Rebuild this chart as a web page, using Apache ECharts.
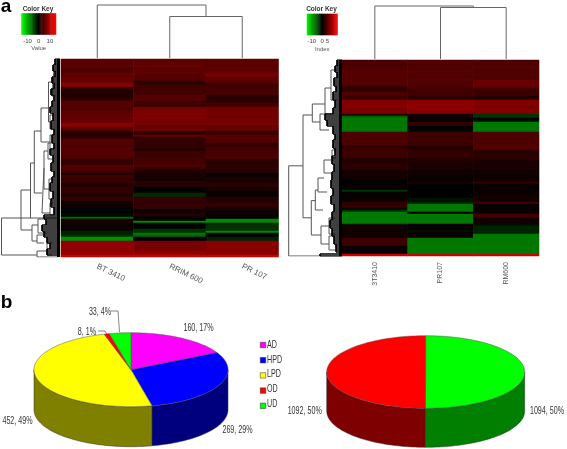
<!DOCTYPE html>
<html>
<head>
<meta charset="utf-8">
<style>
  html, body { margin: 0; padding: 0; background: #fff; }
  #chart { width: 567px; height: 449px; }
</style>
<script src="https://cdn.jsdelivr.net/npm/echarts@6/dist/echarts.min.js"></script>
</head>
<body>
<div id="chart"></div>
<script>
// heatmap a, left: one value per row, top to bottom
const leftNames = ['BT 3410', 'RRIM 600', 'PR 107'];
const leftBT = [
  5.5,5.5,5,5.5,4.5,4.5,4.5,6,5.5,6,
  6,6,8,8,3,2.5,2,2,2,2.5,
  3,5,5,5,4.5,5,5.5,5.5,5.5,6,
  6,6,8,8,5.5,5,2.5,2,2.5,3,
  5,5,5,4.5,5,5,4.5,5,5,4.5,
  3,3,3,4.5,4.5,4.5,4,1.5,3.5,3.5,
  3,3.5,2,2,3,3,3,2,2,3,
  3,1,1,1,0,-0.5,0,-0.5,-0.5,-6,
  1.5,1.5,1,0.5,0.5,0.5,-2,-2,-3,-8.5,
  -8.5,8.5,8.5,8.5,8.5,8.5,8.5,8.5,12
];
const leftRRIM = [
  5.5,5.5,5.5,6,5.5,5.5,5.5,5.5,5,5,
  5,2.5,2.5,4,4,3.5,4,4,5,5,
  5,4,4,2.5,7,7,7,7.5,7,7.5,
  7,7,7,6,6,7,3,3,6,3,
  3,3,3,3,3,1.5,3.5,3.5,3.5,3.5,
  4,4,4,4.5,4,2,2,1.5,1.5,1.5,
  0.5,2.5,2.5,2.5,0,0,0.5,-2.5,-2.5,3,
  3,3,3,3,3,1,1,2,2,0,
  0,-8,0,0,0,-3,-3,-7,-6,0,
  0,7,7,7,7,7,8.5,8.5,12
];
const leftPR = [
  5.5,5.5,5.5,5,5.5,5.5,5.5,7,7,5.5,
  5.5,5.5,4,3.5,4,4,4,4.5,2.5,2.5,
  2.5,2.5,4,4,6.5,6.5,6.5,7,6.5,6.5,
  7,6.5,7.5,6,6,6,3.5,3.5,5,5,
  5,5,3,3,4,4,4,4,4.5,4.5,
  2.5,2.5,2.5,2.5,2.5,2.5,2.5,0.5,0.5,1.5,
  1.5,1.5,2.5,2.5,1.5,1.5,0.5,0.5,0.5,2,
  2,2,3,3,1.5,1.5,0.5,0.5,0.5,0.5,
  -8,-8,-2,-3,-3,-3,-8,0,0,-2,
  -2,8,8,8,8,8,8,8,12
];

// heatmap a, right
const rightNames = ['3T3410', 'PR107', 'RM600'];
const right3T = [
  4.5,4.5,4,4.5,4.5,5,5,5,5,5,
  5,5,5,3,3,3,4.5,4.5,3.5,3.5,
  7.5,7.5,7.5,8,7,7,7,2,-6,-7,
  -7,-7,-7,-7,-7,-7,4.5,4.5,4.5,4.5,
  4.5,4.5,4.5,2.5,3.5,3.5,3.5,3.5,3.5,2,
  2,2,2.5,2.5,2.5,1,1,1.5,1,1,
  0,0,0,0.5,0,-3,0.5,0.5,0.5,0.5,
  0.5,3,3,3,0.5,-3,-7,-7,-7,-7,
  -7,-7,-1,1,1,1,1,1,1,3.5,
  3.5,3.5,3.5,0.5,0.5,0.5,0.5,12
];
const rightPR = [
  5,5,4.5,5,4.5,5,5,5,4.5,5,
  5,4.5,5,4.5,4,4,3.5,4,2.5,2.5,
  8,8,8.5,8,8,8,7.5,1,1,0.5,
  0.5,3,3,0,0,-0.5,3.5,3.5,3.5,3.5,
  3.5,3.5,3.5,2,2,3,3,3,3,2,
  2,1.5,1.5,1.5,1.5,1,1,1,0.5,0.5,
  0.5,1.5,0,0,0,0,0,0,0,-1,
  -1,-2,-7,-7,-7,-7,0,-7,-7,-7,
  -7,-7,0,0.5,0,-1,0.5,0.5,0.5,-7,
  -7,-7,-7,-7,-7,-7,-7,12
];
const rightRM = [
  4.5,4.5,4.5,5,4.5,4.5,4.5,5,4.5,4.5,
  6,6,6,6,3.5,3.5,3.5,3.5,2,2,
  7.5,7.5,7.5,7,7.5,7.5,7.5,-3,-3,0,
  -1,-7,-7,-7,-7,-7,4.5,4.5,4.5,4.5,
  4.5,4.5,4.5,5,5,2.5,2.5,2.5,2.5,2.5,
  1.5,1.5,1.5,1.5,1.5,1,1,1,1,1,
  1,3,0.5,0.5,0.5,0.5,0.5,1,1,1,
  1,4,0.5,0.5,0.5,0.5,0.5,4,4,1,
  1,1,-1,-2,-2,-2,-2,-7,-7,-7,
  -7,-7,-7,-7,-7,-7,-7,12
];

// colour keys
const keyStepsLeft = [-15,-14,-13,-12,-11,-10,-9,-8,-7,-6,-5,-4,-3,-2,-1,0,1,2,3,4,5,6,7,8,9,10,11,12,13,14,15];
const keyStepsRight = [-14,-13,-12,-11,-10,-9,-8,-7,-6,-5,-4,-3,-2,-1,0,1,2,3,4,5,6,7,8,9,10,11,12,13,14];
const keyTicksLeft = [-10,-5,0,5,10];
const keyTicksRight = [-10,-5,0,5];
const keyLabelsLeft = [-10,0,10];
const keyLabelsRight = [-10,0,5];

// dendrograms: [merge height, first child, second child, end of first arm, end of second arm]
const colTreeLeft = [[5,0.5,2,58,16.5],[16.5,1.5,2.5,58,58]];
const colTreeRight = [[6,0.5,2,59,7.5],[7.5,1.5,2.5,59,59]];
const rowTreeLeft = [
  [1.5,79.5,98,31,37],[21,65.5,85.5,30.5,32],[30.5,52,79.5,34.3,58],[34.3,36,67,41,42],
  [41,24.5,41.5,48.5,50],[48.5,11.5,31.5,52,50],[52,5,18.5,54,54],[50,28,35,53,53],
  [50,38,45,54,54],[42,54.5,77,44,50],[44,46,65,48,49],[48,42,50,52,52],[49,60,70,52,52],
  [50,72,78,53,54],[32,83,91,38,37],[38,80,87,45,46],[37,88,92,44,44],[37,96,99,47,58],[47,92,98,52,52]
];
const rowTreeRight = [
  [1.7,52.9,98,16,33],[16,27.5,78.9,25.3,24.3],[25.3,22,31,38,33],[38,14,27,44,46],
  [44,5,20,50,50],[33,27,35,40,42],[24.3,70.3,87.5,28.3,34],[28.3,65,75,31,36],
  [31,59,66,37,40],[37,50,56.5,45,46],[45,45,49,49,49],[34,83,92,42,42],[42,79,87,48,48],[42,88,95,48,48]
];
// leaf bundles: [height where the leaves start, first row, last row]
const rowLeavesLeft = [
  [55,0,3],[53,3,6],[55,6,9],[52,9,12],[54,12,15],[51,15,18],[54,18,21],[52,21,24],[50,24,27],[53,27,31],
  [51,31,35],[54,35,38],[52,38,42],[54,42,45],[50,45,48],[53,48,52],[51,52,56],[54,56,59],[52,59,62],
  [50,62,66],[53,66,70],[51,70,74],[54,74,78],[44,78,80],[46,80,83],[42,83,86],[44,86,89],[47,89,92],
  [50,92,95],[47,95,98]
];
const rowLeavesRight = [
  [50,0,3],[48,3,6],[50,6,9],[47,9,13],[49,13,16],[46,16,20],[48,20,24],[46,24,27],[38,27,30],[40,30,33],
  [46,33,37],[48,37,40],[46,40,44],[48,44,48],[45,48,52],[47,52,56],[45,56,60],[44,60,64],[46,64,68],
  [44,68,72],[47,72,76],[45,76,80],[43,80,84],[45,84,88],[47,88,92],[49,92,96],[33,97,98]
];

// pies in panel b
const pieNames = ['AD', 'HPD', 'LPD', 'OD', 'UD'];
const pieValues = [160, 269, 452, 8, 33];
const pieTops = ['#ff00ff', '#0000ff', '#ffff00', '#ff0000', '#00ff00'];
const pieWalls = ['#7f007f', '#00007f', '#7f7f00', '#7f0000', '#007f00'];
const pie2Values = [1094, 1092];
const pie2Tops = ['#00ff00', '#ff0000'];
const pie2Walls = ['#007f00', '#7f0000'];

const sans = '"Liberation Sans",Arial,sans-serif';
const pieFont = '10.5px ' + sans;
const squeeze = 0.68; // the labels in the original are a condensed face

function heatData(cols) {
  let out = [];
  cols.forEach((col, c) => col.forEach((v, r) => out.push([c, r, v])));
  return out;
}

// horizontal trees: x is height, y is row
function rowTreeLine(tree) {
  let pts = [];
  tree.forEach(b => {
    pts.push([b[3], b[1]], [b[0], b[1]], [b[0], b[2]], [b[4], b[2]], ['-', '-']);
  });
  return pts;
}
function leafLine(leaves, edge) {
  let pts = [];
  leaves.forEach(l => {
    pts.push([l[0], l[1]], [l[0], l[2]], ['-', '-']);
    for (let r = l[1]; r <= l[2]; r++) pts.push([l[0], r], [edge, r], ['-', '-']);
  });
  return pts;
}
// vertical trees: x is column, y is height
function colTreeLine(tree) {
  let pts = [];
  tree.forEach(b => {
    pts.push([b[1], b[3]], [b[1], b[0]], [b[2], b[0]], [b[2], b[4]], ['-', '-']);
  });
  return pts;
}

let grid = [], xAxis = [], yAxis = [], series = [], heatIndex = [];

function addHeat(g, names, cols) {
  grid.push(g);
  let gi = grid.length - 1;
  xAxis.push({
    type: 'category', gridIndex: gi, data: names,
    axisLine: { show: false }, axisTick: { show: false },
    axisLabel: g.labelStyle
  });
  yAxis.push({ type: 'category', gridIndex: gi, inverse: true, show: false, data: cols[0].map((v, i) => i) });
  heatIndex.push(series.length);
  series.push({ type: 'heatmap', xAxisIndex: gi, yAxisIndex: gi, data: heatData(cols), silent: true, progressive: 0 });
}
function addLines(g, xAx, yAx, lines) {
  grid.push(g);
  let gi = grid.length - 1;
  xAxis.push(Object.assign({ type: 'value', gridIndex: gi, show: false }, xAx));
  yAxis.push(Object.assign({ type: 'value', gridIndex: gi, show: false, inverse: true }, yAx));
  lines.forEach(l => series.push({
    type: 'line', xAxisIndex: gi, yAxisIndex: gi, data: l.data, silent: true,
    showSymbol: false, connectNulls: false, lineStyle: { color: l.color, width: l.width }
  }));
}
function addKey(g, steps, ticks, labels, name) {
  grid.push(g);
  let gi = grid.length - 1;
  xAxis.push({
    type: 'category', gridIndex: gi, data: steps, name: name, nameLocation: 'middle', nameGap: 11,
    nameTextStyle: { fontSize: 6, color: '#555', fontFamily: sans },
    axisLine: { show: false },
    axisTick: { alignWithLabel: true, length: 2.5, lineStyle: { color: '#444', width: 0.6 },
      interval: (i, v) => ticks.includes(Number(v)) },
    axisLabel: { fontSize: 6, color: '#444', margin: 3.5, fontFamily: sans,
      interval: (i, v) => labels.includes(Number(v)) }
  });
  yAxis.push({ type: 'category', gridIndex: gi, show: false, data: ['key'] });
  heatIndex.push(series.length);
  series.push({ type: 'heatmap', xAxisIndex: gi, yAxisIndex: gi, silent: true, progressive: 0,
    data: steps.map((v, i) => [i, 0, v]) });
}

// heatmap blocks and their trees
addHeat({ left: 61, top: 59, width: 217.5, height: 198,
  labelStyle: { interval: 0, rotate: -26, fontSize: 8, color: '#555', margin: 9, fontFamily: sans } },
  leftNames, [leftBT, leftRRIM, leftPR]);
addLines({ left: 61, top: 0, width: 217.5, height: 58 }, { min: 0, max: 3 }, { min: 0, max: 58 },
  [{ data: colTreeLine(colTreeLeft), color: '#666', width: 1 }]);
addLines({ left: 0, top: 59, width: 60, height: 198 }, { min: 0, max: 60 }, { min: 0, max: 99 }, [
  { data: rowTreeLine(rowTreeLeft), color: '#555', width: 1 },
  { data: leafLine(rowLeavesLeft, 60), color: '#000', width: 1.7 },
  { data: [[58.5, 0], [58.5, 99]], color: '#000', width: 3 }
]);
addKey({ left: 21.5, top: 13.5, width: 34.5, height: 21 }, keyStepsLeft, keyTicksLeft, keyLabelsLeft, 'Value');

addHeat({ left: 342, top: 60, width: 197, height: 196,
  labelStyle: { interval: 0, rotate: 90, fontSize: 7, color: '#555', margin: 6, fontFamily: sans } },
  rightNames, [right3T, rightPR, rightRM]);
addLines({ left: 342, top: 0, width: 197, height: 59 }, { min: 0, max: 3 }, { min: 0, max: 59 },
  [{ data: colTreeLine(colTreeRight), color: '#666', width: 1 }]);
addLines({ left: 287, top: 60, width: 55, height: 196 }, { min: 0, max: 55 }, { min: 0, max: 98 }, [
  { data: rowTreeLine(rowTreeRight), color: '#555', width: 1 },
  { data: leafLine(rowLeavesRight, 55), color: '#000', width: 1.7 },
  { data: [[53.5, 0], [53.5, 98]], color: '#000', width: 3 }
]);
addKey({ left: 307, top: 14, width: 30.5, height: 21 }, keyStepsRight, keyTicksRight, keyLabelsRight, 'Index');

// 3d pie slice: drawn from the share of its value, angle 0 at twelve o'clock going clockwise
function ellipsePts(p, from, to, drop) {
  let pts = [];
  let n = Math.max(2, Math.ceil((to - from) / 2));
  for (let i = 0; i <= n; i++) {
    let a = (from + (to - from) * i / n) * Math.PI / 180;
    pts.push([p.cx + p.rx * Math.sin(a), p.cy - p.ry * Math.cos(a) + drop]);
  }
  return pts;
}
function addPie(p, values, tops, walls, names, labels) {
  let total = values.reduce((a, b) => a + b, 0);
  let start = 0;
  values.forEach((v, i) => {
    let from = start, to = start + v / total * 360;
    start = to;
    series.push({
      type: 'custom', name: names ? names[i] : 'slice ' + i, coordinateSystem: 'none', silent: true,
      itemStyle: { color: tops[i] }, data: [[v]],
      renderItem: () => {
        let children = [];
        let a = Math.max(from, 90), b = Math.min(to, 270);
        if (b > a) {
          children.push({ type: 'polygon',
            shape: { points: ellipsePts(p, a, b, 0).concat(ellipsePts(p, a, b, p.depth).reverse()) },
            style: { fill: walls[i], stroke: '#333', lineWidth: 0.5 } });
        }
        children.push({ type: 'polygon',
          shape: { points: [[p.cx, p.cy]].concat(ellipsePts(p, from, to, 0)) },
          style: { fill: tops[i], stroke: '#555', lineWidth: 0.5 } });
        let lab = labels[i];
        children.push({ type: 'text', x: lab.x, y: lab.y, scaleX: squeeze, style: {
          text: v + ', ' + Math.round(v / total * 100) + '%', fill: '#333',
          font: pieFont, textAlign: 'center', textVerticalAlign: 'middle' } });
        if (lab.leader) {
          children.push({ type: 'polyline', shape: { points: lab.leader },
            style: { fill: 'none', stroke: '#666', lineWidth: 0.8 } });
        }
        return { type: 'group', children: children };
      }
    });
  });
}
addPie({ cx: 131, cy: 369.7, rx: 97, ry: 37, depth: 40 }, pieValues, pieTops, pieWalls, pieNames, [
  { x: 198.5, y: 328.5 },
  { x: 237.5, y: 430 },
  { x: 17.5, y: 421.5 },
  { x: 87, y: 332, leader: [[98, 331], [105, 331], [106.7, 334]] },
  { x: 100, y: 312, leader: [[111, 311], [118, 311], [119.5, 332]] }
]);
addPie({ cx: 425.7, cy: 372, rx: 99, ry: 36.3, depth: 39 }, pie2Values, pie2Tops, pie2Walls, null, [
  { x: 547, y: 411 },
  { x: 304.7, y: 411 }
]);

function note(text, x, y, font, fill, sx, align) {
  return { type: 'text', x: x, y: y, scaleX: sx || 1, silent: true,
    style: { text: text, font: font, fill: fill, textAlign: align || 'center', textVerticalAlign: 'middle' } };
}

// legend labels sit beside the library's swatches, squeezed like the pie labels
let legendNotes = pieNames.map((n, i) => note(n, 267, 345 + i * 14.7, pieFont, '#333', squeeze, 'left'));

let chart = echarts.init(document.getElementById('chart'), null, { renderer: 'canvas' });
chart.setOption({
  animation: false,
  backgroundColor: '#fff',
  grid: grid,
  xAxis: xAxis,
  yAxis: yAxis,
  visualMap: {
    show: false, type: 'continuous', min: -15, max: 15, seriesIndex: heatIndex,
    inRange: { color: ['#00ff00', '#000000', '#ff0000'] }
  },
  legend: {
    data: pieNames, orient: 'vertical', icon: 'rect', left: 260, top: 342, itemWidth: 5.5, itemHeight: 5.5, itemGap: 9.2,
    itemStyle: { borderColor: '#333', borderWidth: 0.5 },
    formatter: () => '', textStyle: { fontSize: 1, lineHeight: 1 },
    padding: 0, selectedMode: false
  },
  graphic: [
    note('a', 6, 7, 'bold 19px ' + sans, '#000'),
    note('b', 6.5, 303, 'bold 19px ' + sans, '#000'),
    note('Color Key', 38, 9, 'bold 6.5px ' + sans, '#333'),
    note('Color Key', 321.5, 9, 'bold 6.5px ' + sans, '#333')
  ].concat(legendNotes),
  series: series
});
</script>
</body>
</html>
